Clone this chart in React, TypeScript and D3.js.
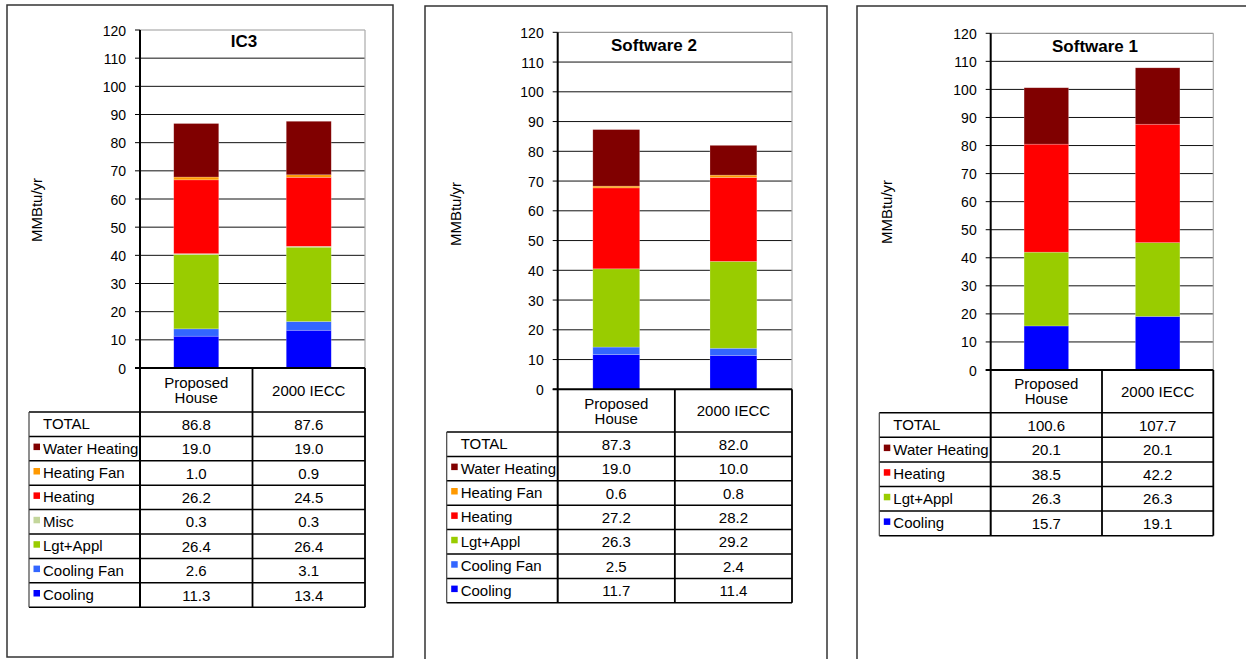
import React from 'react';
import * as d3 from 'd3';

// ---------- data ----------
const categories = ['Proposed House', '2000 IECC'];
const categoryLines = [['Proposed', 'House'], ['2000 IECC']];
const yTicks = [0, 10, 20, 30, 40, 50, 60, 70, 80, 90, 100, 110, 120];

const ic3Series = ['Cooling', 'Cooling Fan', 'Lgt+Appl', 'Misc', 'Heating', 'Heating Fan', 'Water Heating'];
const ic3Proposed = [11.3, 2.6, 26.4, 0.3, 26.2, 1.0, 19.0];
const ic3Iecc = [13.4, 3.1, 26.4, 0.3, 24.5, 0.9, 19.0];
const ic3Totals = [86.8, 87.6];

const sw2Series = ['Cooling', 'Cooling Fan', 'Lgt+Appl', 'Heating', 'Heating Fan', 'Water Heating'];
const sw2Proposed = [11.7, 2.5, 26.3, 27.2, 0.6, 19.0];
const sw2Iecc = [11.4, 2.4, 29.2, 28.2, 0.8, 10.0];
const sw2Totals = [87.3, 82.0];

const sw1Series = ['Cooling', 'Lgt+Appl', 'Heating', 'Water Heating'];
const sw1Proposed = [15.7, 26.3, 38.5, 20.1];
const sw1Iecc = [19.1, 26.3, 42.2, 20.1];
const sw1Totals = [100.6, 107.7];

const seriesColors: Record<string, string> = {
  'Cooling': '#0000FF',
  'Cooling Fan': '#3366FF',
  'Lgt+Appl': '#99CC00',
  'Misc': '#C3D69B',
  'Heating': '#FF0000',
  'Heating Fan': '#FF9900',
  'Water Heating': '#800000',
};

const FONT = '"Liberation Sans", Arial, Helvetica, sans-serif';

interface PanelLayout {
  border: [number, number, number, number];
  left: number; right: number; top: number; bottom: number;
  headerH: number; tableLeft: number; rowH: number;
  titleX: number; titleY: number;
  yLabelX: number; yLabelY: number;
}

interface PanelProps {
  title: string;
  series: string[];
  values: number[][];
  totals: number[];
  layout: PanelLayout;
}

const fmt = d3.format('.1f');

function Panel({ title, series, values, totals, layout: L }: PanelProps) {
  const rows = categories.map((c, i) => {
    const o: any = { category: c };
    series.forEach((s, j) => { o[s] = values[i][j]; });
    return o;
  });
  const stacked = d3.stack<any>().keys(series)(rows);
  const x = d3.scaleBand<string>().domain(categories).range([L.left, L.right]).paddingInner(0.6).paddingOuter(0.3);
  const y = d3.scaleLinear().domain([0, 120]).range([L.bottom, L.top]);
  const step = x.step();
  const colEdges = [L.left, L.left + step, L.right];
  const tableRows = ['TOTAL', ...series.slice().reverse()];
  const tableTop = L.bottom + L.headerH;
  const tableBottom = tableTop + tableRows.length * L.rowH;
  const valueFor = (rowName: string, ci: number) => {
    if (rowName === 'TOTAL') return totals[ci];
    return values[ci][series.indexOf(rowName)];
  };

  return (
    <g>
      <rect x={L.border[0]} y={L.border[1]} width={L.border[2]} height={L.border[3]} fill="#fff" stroke="#333" strokeWidth={1.5} />
      {/* gridlines */}
      {yTicks.map((t) => (
        <g key={t}>
          {t > 0 && t < 120 && <line x1={L.left} x2={L.right} y1={y(t)} y2={y(t)} stroke="#111" strokeWidth={1} />}
          <line x1={L.left - 5} x2={L.left} y1={y(t)} y2={y(t)} stroke="#000" strokeWidth={1} />
          <text x={L.left - 14} y={y(t) + 5.5} textAnchor="end" fontFamily={FONT} fontSize={14} fill="#000">{t}</text>
        </g>
      ))}
      {/* plot border top/right */}
      <line x1={L.left} x2={L.right} y1={L.top} y2={L.top} stroke="#999" strokeWidth={1.2} />
      <line x1={L.right} x2={L.right} y1={L.top} y2={L.bottom} stroke="#aaa" strokeWidth={1.2} />
      {/* bars */}
      {stacked.map((layer) => (
        <g key={layer.key} fill={seriesColors[layer.key]}>
          {layer.map((d, i) => (
            <rect key={i} x={x(d.data.category)!} width={x.bandwidth()} y={y(d[1])} height={y(d[0]) - y(d[1])}
              stroke="rgba(255,255,255,0.35)" strokeWidth={0.6} />
          ))}
        </g>
      ))}
      {/* title */}
      <text x={L.titleX} y={L.titleY} textAnchor="middle" fontFamily={FONT} fontSize={17} fontWeight="bold" fill="#000">{title}</text>
      {/* y label */}
      <text transform={`translate(${L.yLabelX},${L.yLabelY}) rotate(-90)`} textAnchor="middle" fontFamily={FONT} fontSize={15} fill="#000">MMBtu/yr</text>
      {/* axis */}
      <line x1={L.left} x2={L.left} y1={L.top} y2={tableBottom} stroke="#000" strokeWidth={2} />
      <line x1={L.left - 5} x2={L.right} y1={L.bottom} y2={L.bottom} stroke="#000" strokeWidth={2} />
      {/* header row */}
      {categoryLines.map((lines, ci) => {
        const cx = colEdges[ci] + step / 2;
        const cy = L.bottom + L.headerH / 2;
        return lines.map((ln, li) => (
          <text key={ci + '-' + li} x={cx} y={cy + 5.5 + (li - (lines.length - 1) / 2) * 15} textAnchor="middle"
            fontFamily={FONT} fontSize={15} fill="#000">{ln}</text>
        ));
      })}
      {/* table lines */}
      {tableRows.map((r, ri) => (
        <line key={'h' + ri} x1={L.tableLeft} x2={L.right} y1={tableTop + ri * L.rowH} y2={tableTop + ri * L.rowH} stroke="#000" strokeWidth={1.5} />
      ))}
      <line x1={L.tableLeft} x2={L.right} y1={tableBottom} y2={tableBottom} stroke="#000" strokeWidth={1.5} />
      <line x1={L.tableLeft} x2={L.tableLeft} y1={tableTop} y2={tableBottom} stroke="#444" strokeWidth={1.2} />
      <line x1={colEdges[1]} x2={colEdges[1]} y1={L.bottom} y2={tableBottom} stroke="#000" strokeWidth={1.8} />
      <line x1={colEdges[2]} x2={colEdges[2]} y1={L.bottom} y2={tableBottom} stroke="#000" strokeWidth={1.8} />
      {/* table text */}
      {tableRows.map((r, ri) => {
        const cy = tableTop + ri * L.rowH + L.rowH / 2;
        return (
          <g key={'r' + ri}>
            {r !== 'TOTAL' && (
              <rect x={L.tableLeft + 4.5} y={cy - 5} width={6.5} height={6.5} fill={seriesColors[r]} />
            )}
            <text x={L.tableLeft + 14} y={cy + 5} fontFamily={FONT} fontSize={15} fill="#000">{r}</text>
            {categories.map((c, ci) => (
              <text key={c} x={colEdges[ci] + step / 2} y={cy + 5.5} textAnchor="middle" fontFamily={FONT} fontSize={15} fill="#000">
                {fmt(valueFor(r, ci))}
              </text>
            ))}
          </g>
        );
      })}
    </g>
  );
}

const layout1: PanelLayout = {
  border: [7, 5, 386, 652],
  left: 140, right: 365, top: 30, bottom: 368,
  headerH: 44, tableLeft: 29, rowH: 24.4,
  titleX: 244, titleY: 46.5, yLabelX: 42, yLabelY: 210,
};
const layout2: PanelLayout = {
  border: [425, 6, 402, 700],
  left: 557.7, right: 792, top: 32.3, bottom: 389.3,
  headerH: 42.7, tableLeft: 446.7, rowH: 24.4,
  titleX: 654, titleY: 50.5, yLabelX: 461, yLabelY: 214,
};
const layout3: PanelLayout = {
  border: [857, 6, 420, 700],
  left: 990.7, right: 1213.3, top: 33.3, bottom: 370,
  headerH: 42.7, tableLeft: 879.3, rowH: 24.6,
  titleX: 1095, titleY: 52, yLabelX: 892, yLabelY: 212,
};

export default function App() {
  return (
    <svg width={1246} height={659} style={{ position: 'absolute', left: 0, top: 0, display: 'block', background: '#fff' }}>
      <rect x={0} y={0} width={1246} height={659} fill="#fff" />
      <Panel title="IC3" series={ic3Series} values={[ic3Proposed, ic3Iecc]} totals={ic3Totals} layout={layout1} />
      <Panel title="Software 2" series={sw2Series} values={[sw2Proposed, sw2Iecc]} totals={sw2Totals} layout={layout2} />
      <Panel title="Software 1" series={sw1Series} values={[sw1Proposed, sw1Iecc]} totals={sw1Totals} layout={layout3} />
    </svg>
  );
}
